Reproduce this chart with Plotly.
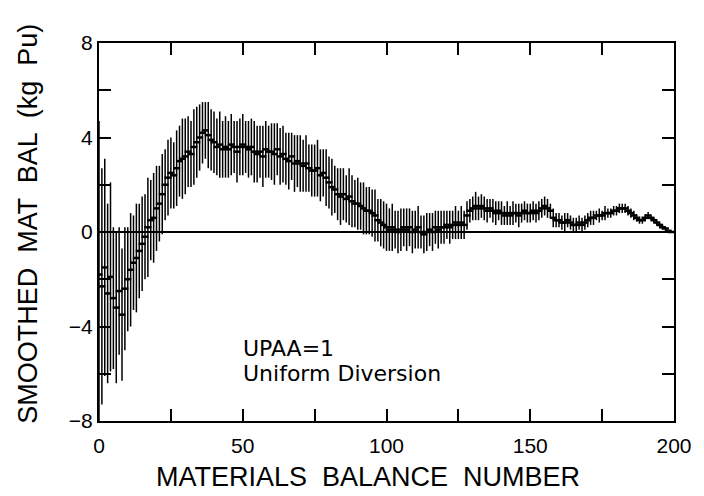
import plotly.graph_objects as go

balance_number = list(range(0, 200))

smoothed = [
    -1.8, -2.3, -1.5, -2.6, -1.9,
    -2.8, -3.2, -2.5, -3.5, -2.4,
    -2.0, -1.6, -1.3, -1.1, -0.8,
    -0.5, -0.2, 0.2, 0.5, 0.6,
    1.0, 1.2, 1.6, 2.0, 2.3,
    2.5, 2.4, 2.7, 3.0, 3.1,
    3.2, 3.4, 3.3, 3.6, 3.8,
    4.0, 4.2, 4.3, 4.1, 3.9,
    3.8, 3.6, 3.7, 3.5, 3.6,
    3.5, 3.7, 3.6, 3.4, 3.6,
    3.7, 3.6, 3.5, 3.6, 3.4,
    3.3, 3.4, 3.2, 3.5, 3.4,
    3.4, 3.3, 3.5, 3.2, 3.3,
    3.1, 3.0, 3.2, 2.9, 3.0,
    2.9, 2.8, 2.9, 2.7, 2.6,
    2.6, 2.7, 2.4, 2.5, 2.3,
    2.1, 1.9, 1.8, 1.6, 1.5,
    1.6, 1.4, 1.5, 1.3, 1.2,
    1.2, 1.1, 1.0, 0.9, 0.9,
    0.8, 0.7, 0.5, 0.4, 0.3,
    0.2, 0.1, 0.2, 0.1, 0.0,
    0.1, 0.2, 0.1, 0.2, 0.0,
    0.1, 0.2, 0.0, -0.1, 0.0,
    0.1, 0.0, 0.2, 0.1, 0.2,
    0.2, 0.3, 0.2, 0.3, 0.4,
    0.3, 0.4, 0.3, 0.7, 0.9,
    1.0, 1.1, 1.0, 1.1, 1.0,
    0.9, 1.0, 0.9, 0.8, 0.9,
    0.8, 0.7, 0.8, 0.7, 0.8,
    0.8, 0.7, 0.8, 0.9, 0.8,
    0.8, 0.9, 0.8, 0.9, 1.0,
    1.1, 1.0, 0.9, 0.6, 0.5,
    0.5, 0.4, 0.4, 0.5, 0.4,
    0.3, 0.3, 0.4, 0.3, 0.4,
    0.5, 0.6, 0.6, 0.7, 0.7,
    0.7, 0.8, 0.8, 0.8, 0.9,
    0.9, 1.0, 1.0, 1.0, 0.9,
    0.8, 0.7, 0.6, 0.5, 0.5,
    0.6, 0.7, 0.6, 0.5, 0.4,
    0.3, 0.2, 0.15, 0.05, 0.0,
]

uncertainty = [
    6.5, 5.0, 4.6, 3.8, 4.0,
    3.0, 3.2, 2.7, 2.8, 2.6,
    2.2, 2.4, 2.0, 2.3, 2.0,
    2.0, 1.8, 2.1, 1.7, 1.9,
    1.8, 1.6, 1.7, 1.5, 1.6,
    1.5, 1.4, 1.6, 1.5, 1.7,
    1.6, 1.5, 1.4, 1.6, 1.5,
    1.4, 1.3, 1.2, 1.4, 1.3,
    1.3, 1.2, 1.4, 1.2, 1.3,
    1.2, 1.3, 1.1, 1.3, 1.2,
    1.3, 1.1, 1.2, 1.2, 1.3,
    1.2, 1.1, 1.3, 1.2, 1.1,
    1.2, 1.3, 1.1, 1.2, 1.2,
    1.1, 1.2, 1.0, 1.2, 1.1,
    1.2, 1.1, 1.2, 1.0, 1.1,
    1.1, 1.2, 1.1, 1.0, 1.2,
    1.1, 1.2, 1.0, 1.1, 1.2,
    1.1, 1.0, 1.2, 1.1, 1.0,
    1.1, 1.0, 1.1, 1.0, 1.0,
    1.0, 1.1, 0.9, 1.0, 1.0,
    1.0, 0.9, 1.0, 0.8, 0.9,
    0.9, 0.8, 0.9, 0.8, 0.9,
    0.8, 0.9, 0.7, 0.8, 0.8,
    0.7, 0.8, 0.7, 0.8, 0.7,
    0.7, 0.6, 0.7, 0.6, 0.7,
    0.6, 0.7, 0.6, 0.6, 0.5,
    0.5, 0.6, 0.5, 0.5, 0.5,
    0.5, 0.4, 0.5, 0.5, 0.4,
    0.5, 0.4, 0.5, 0.4, 0.5,
    0.4, 0.5, 0.4, 0.4, 0.4,
    0.4, 0.4, 0.4, 0.4, 0.4,
    0.4, 0.4, 0.3, 0.4, 0.3,
    0.3, 0.3, 0.4, 0.3, 0.3,
    0.3, 0.3, 0.3, 0.3, 0.3,
    0.3, 0.3, 0.3, 0.2, 0.3,
    0.2, 0.3, 0.2, 0.2, 0.2,
    0.2, 0.2, 0.2, 0.2, 0.2,
    0.2, 0.2, 0.15, 0.15, 0.15,
    0.15, 0.15, 0.1, 0.1, 0.1,
    0.1, 0.1, 0.05, 0.05, 0.0,
]

x_ticks = [0, 50, 100, 150, 200]
y_ticks = [-8, -4, 0, 4, 8]

FONT = "Liberation Sans"
TEXT_FONT = "DejaVu Sans"

fig = go.Figure()
fig.add_trace(go.Scatter(
    x=balance_number,
    y=smoothed,
    mode="markers",
    marker=dict(symbol="line-ew", size=5, color="black",
                line=dict(color="black", width=2.5)),
    error_y=dict(type="data", array=uncertainty, visible=True,
                 color="black", thickness=1.5, width=0),
    showlegend=False,
    cliponaxis=True,
))

axis_common = dict(
    showline=True, linecolor="black", linewidth=2, mirror="allticks",
    ticks="inside", ticklen=12, tickwidth=1.5, tickcolor="black",
    showgrid=False,
    tickfont=dict(family=FONT, size=21, color="black"),
)

fig.update_xaxes(
    range=[0, 200], tickvals=x_ticks,
    minor=dict(tickvals=[25, 75, 125, 175], ticks="inside", ticklen=12,
               tickwidth=1.5, tickcolor="black", showgrid=False),
    zeroline=False, ticklabelstandoff=5,
    **axis_common,
)
fig.update_yaxes(
    range=[-8, 8], tickvals=y_ticks,
    minor=dict(tickvals=[-6, -2, 2, 6], ticks="inside", ticklen=12,
               tickwidth=1.5, tickcolor="black", showgrid=False),
    zeroline=True, zerolinecolor="black", zerolinewidth=1.5,
    **axis_common,
)

# axis titles
fig.add_annotation(x=0.468, y=-0.148, xref="paper", yref="paper",
                   text="MATERIALS  BALANCE  NUMBER", showarrow=False,
                   xanchor="center", yanchor="middle",
                   font=dict(family=FONT, size=27, color="black"))
fig.add_annotation(x=-0.124, y=0.521, xref="paper", yref="paper",
                   text="SMOOTHED  MAT  BAL  (kg  Pu)", showarrow=False,
                   textangle=-90, xanchor="center", yanchor="middle",
                   font=dict(family=FONT, size=27, color="black"))

fig.add_annotation(x=49.5, y=-5.53, xref="x", yref="y", text="UPAA=1",
                   showarrow=False, xanchor="left", yanchor="bottom",
                   font=dict(family=TEXT_FONT, size=22, color="black"))
fig.add_annotation(x=49.5, y=-5.36, xref="x", yref="y", text="Uniform Diversion",
                   showarrow=False, xanchor="left", yanchor="top",
                   font=dict(family=TEXT_FONT, size=22, color="black"))

fig.update_layout(
    width=704, height=496,
    margin=dict(l=99, r=24, t=43, b=75),
    paper_bgcolor="white", plot_bgcolor="white",
)

fig.write_html("out.html")
